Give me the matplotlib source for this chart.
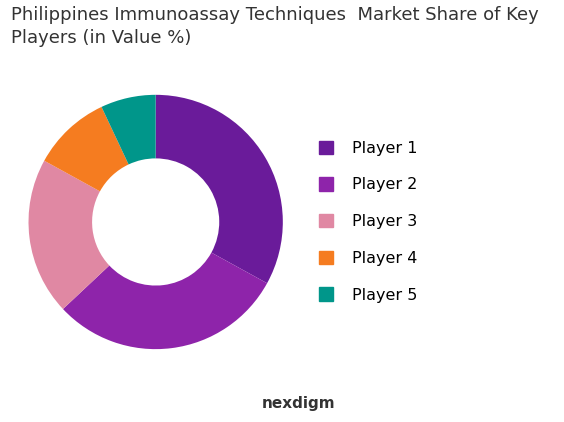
import matplotlib.pyplot as plt
from matplotlib.patches import Patch

labels = ["Player 1", "Player 2", "Player 3", "Player 4", "Player 5"]
values = [33, 30, 20, 10, 7]
colors = ["#6A1B9A", "#8E24AA", "#E088A3", "#F57C20", "#00968A"]

fig = plt.figure(figsize=(5.64, 4.22), dpi=100)
ax = fig.add_axes([0.028, 0.142, 0.496, 0.664])
ax.pie(values, colors=colors, startangle=90, counterclock=False, radius=1.0,
       wedgeprops=dict(width=0.5, edgecolor="none"))
ax.set_xlim(-1.1, 1.1); ax.set_ylim(-1.1, 1.1)
ax.set_aspect("equal")

fig.text(0.02, 0.985, "Philippines Immunoassay Techniques  Market Share of Key\nPlayers (in Value %)",
         ha="left", va="top", fontsize=13, color="#333333", linespacing=1.3)

handles = [Patch(color=c) for c in colors]
fig.legend(handles, labels, loc="center left", bbox_to_anchor=(0.54, 0.475),
           frameon=False, fontsize=11.5, handlelength=0.9, handleheight=0.9,
           labelspacing=1.35, handletextpad=1.2)

fig.text(0.53, 0.045, "nexdigm", ha="center", va="center", fontsize=11,
         color="#333333", fontweight="bold")
fig.savefig("out.png", dpi=100)
